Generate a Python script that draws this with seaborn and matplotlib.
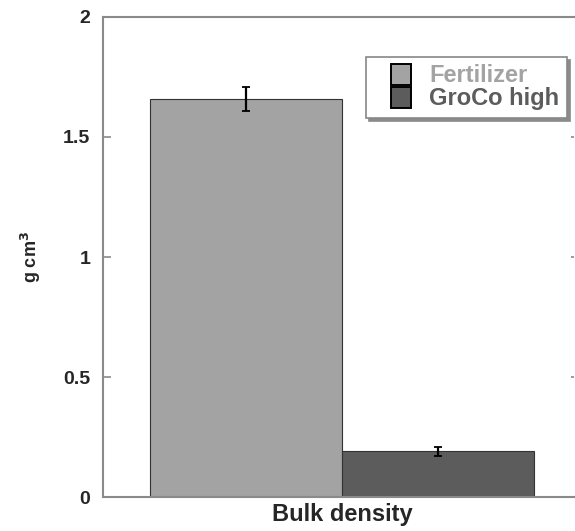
import matplotlib
matplotlib.use("Agg")
import matplotlib.pyplot as plt
import seaborn as sns
import pandas as pd
from matplotlib.patches import Rectangle
from matplotlib.legend_handler import HandlerPatch

categories = ["Bulk density"]
series = ["Fertilizer", "GroCo high"]
means = [1.66, 0.19]
errors = [0.05, 0.02]
colors = ["#a3a3a3", "#5c5c5c"]
yticks = [0, 0.5, 1, 1.5, 2]
ytick_labels = ["0", "0.5", "1", "1.5", "2"]

sns.set_theme(style="white")
plt.rcParams["font.family"] = ["Liberation Sans", "DejaVu Sans"]

df = pd.DataFrame({"cat": categories * len(series), "treat": series, "val": means})

fig = plt.figure(figsize=(5.75, 5.31), dpi=100)
ax = fig.add_axes([0.179, 0.064, 0.819, 0.904])

sns.barplot(data=df, x="cat", y="val", hue="treat", hue_order=series,
            palette=colors, errorbar=None, width=0.8, saturation=1,
            edgecolor="#333333", linewidth=0.8, ax=ax)

bars = [p for p in ax.patches if p.get_height() > 0][:len(series)]
for p, m, e in zip(bars, means, errors):
    cx = p.get_x() + p.get_width() / 2
    ax.errorbar(cx, m, yerr=e, fmt="none", ecolor="black", elinewidth=1.6,
                capsize=2.8, capthick=1.3, zorder=5)

ax.set_ylim(0, 2)
ax.set_xlim(-0.498, 0.483)
ax.set_yticks(yticks)
ax.set_yticklabels(ytick_labels, fontsize=14, fontweight="bold")
ax.set_xticks([])
ax.set_xlabel("Bulk density", fontsize=17, fontweight="bold", labelpad=3)
ax.xaxis.set_label_coords(0.508, -0.012)
ax.xaxis.label.set_va("top")
ax.set_ylabel(r"g cm$^{\mathbf{3}}$", fontsize=13, fontweight="bold")
ax.yaxis.set_label_coords(-0.128, 0.50)

for s in ["left", "bottom", "top"]:
    ax.spines[s].set_color("#8a8a8a")
    ax.spines[s].set_linewidth(1.5)
ax.spines["right"].set_visible(False)
ax.tick_params(axis="y", direction="in", length=6, width=1.2, color="#8a8a8a",
               left=True, right=True, pad=9)
for t in ax.yaxis.get_major_ticks():
    t.tick2line.set_markersize(2)


def square_right(legend, orig_handle, xdescent, ydescent, width, height, fontsize):
    w = height * 1.03
    return Rectangle((-xdescent + width - w, -ydescent - height * 0.045),
                     w, height * 1.09)


leg = ax.legend(loc="upper right", bbox_to_anchor=(0.985, 0.917),
                prop={"weight": "bold", "size": 17}, frameon=True, fancybox=False,
                shadow={"color": "#8a8a8a", "alpha": 1}, handlelength=1.59,
                handleheight=0.9, labelspacing=0.0, handletextpad=0.76,
                borderpad=0.32, borderaxespad=0.0,
                handler_map={Rectangle: HandlerPatch(patch_func=square_right)})
leg.get_frame().set_edgecolor("#888888")
leg.get_frame().set_linewidth(1.2)
leg.get_frame().set_facecolor("white")
for txt, c in zip(leg.get_texts(), colors):
    txt.set_color(c)
for h in leg.legend_handles:
    h.set_edgecolor("black")
    h.set_linewidth(1.4)

fig.savefig("out.png", dpi=100)
